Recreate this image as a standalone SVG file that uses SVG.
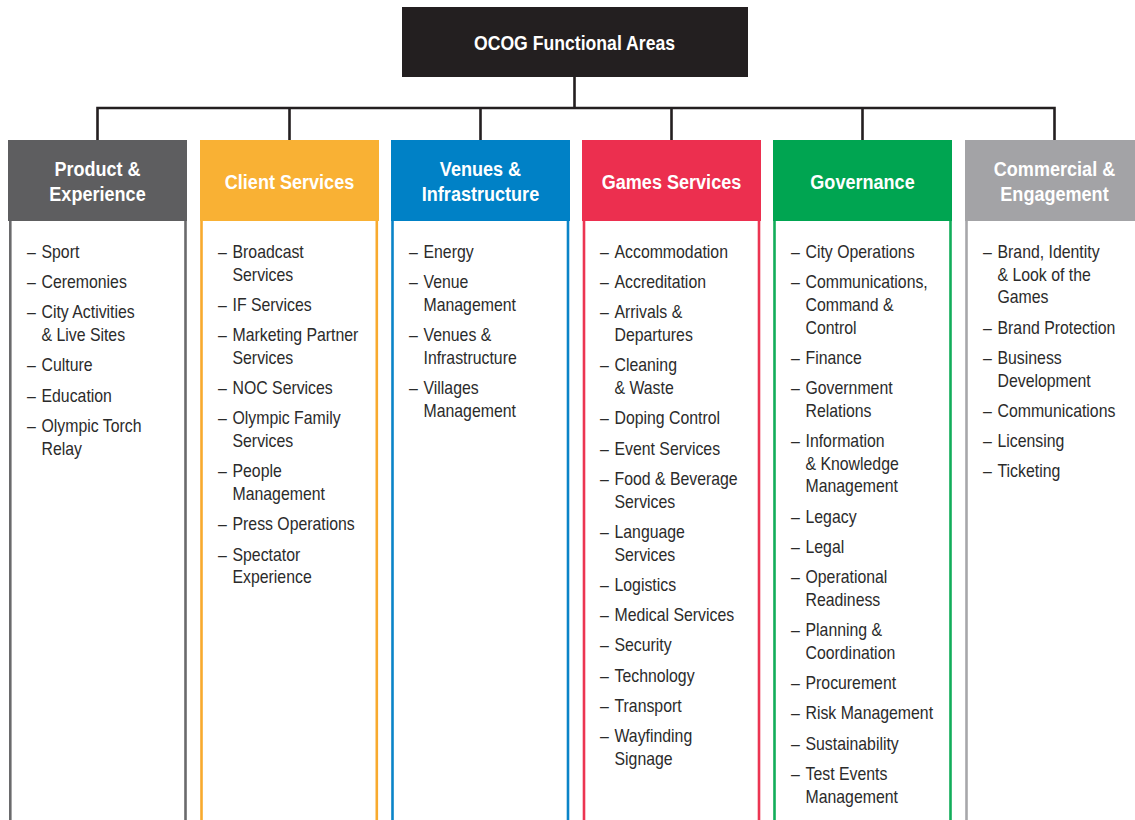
<svg xmlns="http://www.w3.org/2000/svg" width="1135" height="820" viewBox="0 0 1135 820">
<style>
.conn{stroke:#231f20;stroke-width:2.6;fill:none}
.hd{font-family:"Liberation Sans",Arial,sans-serif;font-weight:bold;font-size:21px;fill:#ffffff;text-anchor:middle}
.it{font-family:"Liberation Sans",Arial,sans-serif;font-size:18px;fill:#2b2b2b}
.side{stroke-width:2.6;fill:none}
</style>
<rect x="0" y="0" width="1135" height="820" fill="#ffffff"/>
<g id="connectors">
<path class="conn" d="M574.5 77 V108 M97.5 108 H1054.5 M97.5 106.7 V140 M289.5 106.7 V140 M480.5 106.7 V140 M671.5 106.7 V140 M862.5 106.7 V140 M1054.5 106.7 V140"/>
</g>
<g id="root">
<rect x="402" y="7" width="346" height="70" fill="#231f20"/>
<text class="hd" transform="translate(574.5,50) scale(0.84,1)" x="0" y="0">OCOG Functional Areas</text>
</g>

<g id="col-product">
<rect x="8" y="140" width="179" height="81" fill="#5e5e60"/>
<path class="side" stroke="#6a6a6c" d="M10.3 221 V820 M185.5 221 V820"/>
<g transform="translate(97.5,0) scale(0.86,1)"><text class="hd" x="0" y="176">Product &amp;</text><text class="hd" x="0" y="201.5">Experience</text></g>
<g class="it" transform="translate(27,0) scale(0.88,1)">
<text y="258"><tspan x="0">–</tspan><tspan x="16.5">Sport</tspan></text>
<text y="288.25"><tspan x="0">–</tspan><tspan x="16.5">Ceremonies</tspan></text>
<text y="318.5"><tspan x="0">–</tspan><tspan x="16.5">City Activities</tspan></text>
<text x="16.5" y="341.2">&amp; Live Sites</text>
<text y="371.45"><tspan x="0">–</tspan><tspan x="16.5">Culture</tspan></text>
<text y="401.7"><tspan x="0">–</tspan><tspan x="16.5">Education</tspan></text>
<text y="431.95"><tspan x="0">–</tspan><tspan x="16.5">Olympic Torch</tspan></text>
<text x="16.5" y="454.65">Relay</text>
</g>
</g>

<g id="col-client">
<rect x="200" y="140" width="179" height="81" fill="#f9b134"/>
<path class="side" stroke="#f8aa2e" d="M201.5 221 V820 M376.8 221 V820"/>
<g transform="translate(289.5,0) scale(0.86,1)"><text class="hd" x="0" y="189">Client Services</text></g>
<g class="it" transform="translate(218,0) scale(0.88,1)">
<text y="258"><tspan x="0">–</tspan><tspan x="16.5">Broadcast</tspan></text>
<text x="16.5" y="280.7">Services</text>
<text y="310.95"><tspan x="0">–</tspan><tspan x="16.5">IF Services</tspan></text>
<text y="341.2"><tspan x="0">–</tspan><tspan x="16.5">Marketing Partner</tspan></text>
<text x="16.5" y="363.9">Services</text>
<text y="394.15"><tspan x="0">–</tspan><tspan x="16.5">NOC Services</tspan></text>
<text y="424.4"><tspan x="0">–</tspan><tspan x="16.5">Olympic Family</tspan></text>
<text x="16.5" y="447.1">Services</text>
<text y="477.35"><tspan x="0">–</tspan><tspan x="16.5">People</tspan></text>
<text x="16.5" y="500.05">Management</text>
<text y="530.3"><tspan x="0">–</tspan><tspan x="16.5">Press Operations</tspan></text>
<text y="560.55"><tspan x="0">–</tspan><tspan x="16.5">Spectator</tspan></text>
<text x="16.5" y="583.25">Experience</text>
</g>
</g>

<g id="col-venues">
<rect x="391" y="140" width="179" height="81" fill="#0081c6"/>
<path class="side" stroke="#0a84c8" d="M392.5 221 V820 M568 221 V820"/>
<g transform="translate(480.5,0) scale(0.86,1)"><text class="hd" x="0" y="176">Venues &amp;</text><text class="hd" x="0" y="201.5">Infrastructure</text></g>
<g class="it" transform="translate(409,0) scale(0.88,1)">
<text y="258"><tspan x="0">–</tspan><tspan x="16.5">Energy</tspan></text>
<text y="288.25"><tspan x="0">–</tspan><tspan x="16.5">Venue</tspan></text>
<text x="16.5" y="310.95">Management</text>
<text y="341.2"><tspan x="0">–</tspan><tspan x="16.5">Venues &amp;</tspan></text>
<text x="16.5" y="363.9">Infrastructure</text>
<text y="394.15"><tspan x="0">–</tspan><tspan x="16.5">Villages</tspan></text>
<text x="16.5" y="416.85">Management</text>
</g>
</g>

<g id="col-games">
<rect x="582" y="140" width="179" height="81" fill="#ec2f4f"/>
<path class="side" stroke="#ec3552" d="M584 221 V820 M759 221 V820"/>
<g transform="translate(671.5,0) scale(0.86,1)"><text class="hd" x="0" y="189">Games Services</text></g>
<g class="it" transform="translate(600,0) scale(0.88,1)">
<text y="258"><tspan x="0">–</tspan><tspan x="16.5">Accommodation</tspan></text>
<text y="288.25"><tspan x="0">–</tspan><tspan x="16.5">Accreditation</tspan></text>
<text y="318.5"><tspan x="0">–</tspan><tspan x="16.5">Arrivals &amp;</tspan></text>
<text x="16.5" y="341.2">Departures</text>
<text y="371.45"><tspan x="0">–</tspan><tspan x="16.5">Cleaning</tspan></text>
<text x="16.5" y="394.15">&amp; Waste</text>
<text y="424.4"><tspan x="0">–</tspan><tspan x="16.5">Doping Control</tspan></text>
<text y="454.65"><tspan x="0">–</tspan><tspan x="16.5">Event Services</tspan></text>
<text y="484.9"><tspan x="0">–</tspan><tspan x="16.5">Food &amp; Beverage</tspan></text>
<text x="16.5" y="507.6">Services</text>
<text y="537.85"><tspan x="0">–</tspan><tspan x="16.5">Language</tspan></text>
<text x="16.5" y="560.55">Services</text>
<text y="590.8"><tspan x="0">–</tspan><tspan x="16.5">Logistics</tspan></text>
<text y="621.05"><tspan x="0">–</tspan><tspan x="16.5">Medical Services</tspan></text>
<text y="651.3"><tspan x="0">–</tspan><tspan x="16.5">Security</tspan></text>
<text y="681.55"><tspan x="0">–</tspan><tspan x="16.5">Technology</tspan></text>
<text y="711.8"><tspan x="0">–</tspan><tspan x="16.5">Transport</tspan></text>
<text y="742.05"><tspan x="0">–</tspan><tspan x="16.5">Wayfinding</tspan></text>
<text x="16.5" y="764.75">Signage</text>
</g>
</g>

<g id="col-governance">
<rect x="773" y="140" width="179" height="81" fill="#00a551"/>
<path class="side" stroke="#12ad5a" d="M774.5 221 V820 M950.5 221 V820"/>
<g transform="translate(862.5,0) scale(0.86,1)"><text class="hd" x="0" y="189">Governance</text></g>
<g class="it" transform="translate(791,0) scale(0.88,1)">
<text y="258"><tspan x="0">–</tspan><tspan x="16.5">City Operations</tspan></text>
<text y="288.25"><tspan x="0">–</tspan><tspan x="16.5">Communications,</tspan></text>
<text x="16.5" y="310.95">Command &amp;</text>
<text x="16.5" y="333.65">Control</text>
<text y="363.9"><tspan x="0">–</tspan><tspan x="16.5">Finance</tspan></text>
<text y="394.15"><tspan x="0">–</tspan><tspan x="16.5">Government</tspan></text>
<text x="16.5" y="416.85">Relations</text>
<text y="447.1"><tspan x="0">–</tspan><tspan x="16.5">Information</tspan></text>
<text x="16.5" y="469.8">&amp; Knowledge</text>
<text x="16.5" y="492.5">Management</text>
<text y="522.75"><tspan x="0">–</tspan><tspan x="16.5">Legacy</tspan></text>
<text y="553"><tspan x="0">–</tspan><tspan x="16.5">Legal</tspan></text>
<text y="583.25"><tspan x="0">–</tspan><tspan x="16.5">Operational</tspan></text>
<text x="16.5" y="605.95">Readiness</text>
<text y="636.2"><tspan x="0">–</tspan><tspan x="16.5">Planning &amp;</tspan></text>
<text x="16.5" y="658.9">Coordination</text>
<text y="689.15"><tspan x="0">–</tspan><tspan x="16.5">Procurement</tspan></text>
<text y="719.4"><tspan x="0">–</tspan><tspan x="16.5">Risk Management</tspan></text>
<text y="749.65"><tspan x="0">–</tspan><tspan x="16.5">Sustainability</tspan></text>
<text y="779.9"><tspan x="0">–</tspan><tspan x="16.5">Test Events</tspan></text>
<text x="16.5" y="802.6">Management</text>
</g>
</g>

<g id="col-commercial">
<rect x="965" y="140" width="179" height="81" fill="#a3a3a6"/>
<path class="side" stroke="#a7a7aa" d="M966.5 221 V820"/>
<g transform="translate(1054.5,0) scale(0.86,1)"><text class="hd" x="0" y="176">Commercial &amp;</text><text class="hd" x="0" y="201.5">Engagement</text></g>
<g class="it" transform="translate(983,0) scale(0.88,1)">
<text y="258"><tspan x="0">–</tspan><tspan x="16.5">Brand, Identity</tspan></text>
<text x="16.5" y="280.7">&amp; Look of the</text>
<text x="16.5" y="303.4">Games</text>
<text y="333.65"><tspan x="0">–</tspan><tspan x="16.5">Brand Protection</tspan></text>
<text y="363.9"><tspan x="0">–</tspan><tspan x="16.5">Business</tspan></text>
<text x="16.5" y="386.6">Development</text>
<text y="416.85"><tspan x="0">–</tspan><tspan x="16.5">Communications</tspan></text>
<text y="447.1"><tspan x="0">–</tspan><tspan x="16.5">Licensing</tspan></text>
<text y="477.35"><tspan x="0">–</tspan><tspan x="16.5">Ticketing</tspan></text>
</g>
</g>
</svg>
